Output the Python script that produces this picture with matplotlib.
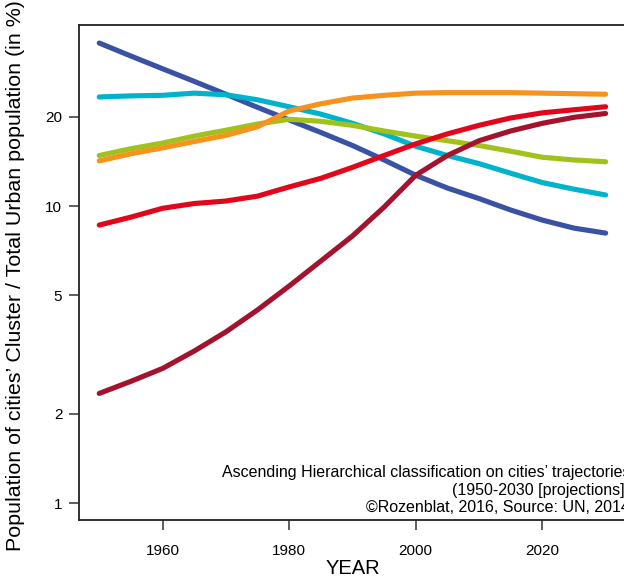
import matplotlib
matplotlib.use('Agg')
import matplotlib.pyplot as plt
from matplotlib.ticker import FixedLocator, FixedFormatter, NullLocator

plt.rcParams['font.family'] = ['Liberation Sans', 'DejaVu Sans']

years = [1950, 1955, 1960, 1965, 1970, 1975, 1980, 1985, 1990,
         1995, 2000, 2005, 2010, 2015, 2020, 2025, 2030]

# share of each cluster in total urban population (%)
blue = [35.4, 32.0, 29.0, 26.3, 23.8, 21.5, 19.5, 17.7, 16.0,
        14.3, 12.7, 11.5, 10.6, 9.7, 8.97, 8.43, 8.11]
cyan = [23.3, 23.5, 23.6, 24.0, 23.7, 22.8, 21.6, 20.4, 19.0,
        17.5, 15.9, 14.8, 13.9, 12.9, 12.0, 11.4, 10.9]
green = [14.8, 15.6, 16.3, 17.2, 18.0, 18.9, 19.6, 19.3, 18.7,
         17.9, 17.2, 16.6, 16.0, 15.3, 14.6, 14.3, 14.1]
orange = [14.2, 15.0, 15.7, 16.5, 17.3, 18.5, 20.9, 22.1, 23.1,
          23.6, 24.0, 24.1, 24.1, 24.1, 24.0, 23.9, 23.8]
red = [8.63, 9.18, 9.83, 10.2, 10.4, 10.8, 11.6, 12.4, 13.5,
       14.8, 16.2, 17.5, 18.7, 19.8, 20.6, 21.1, 21.6]
darkred = [2.34, 2.57, 2.84, 3.25, 3.77, 4.47, 5.38, 6.53, 7.93,
           9.92, 12.7, 14.8, 16.6, 17.9, 19.0, 19.9, 20.5]

series = [
    (blue, '#3a52a3'),
    (cyan, '#00b3cc'),
    (green, '#a1c21b'),
    (orange, '#f6921e'),
    (red, '#e2061b'),
    (darkred, '#a3132d'),
]

yticks = [1, 2, 5, 10, 20]
xticks = [1960, 1980, 2000, 2020]

fig = plt.figure(figsize=(6.24, 5.78), dpi=100)
ax = fig.add_axes([0.1266, 0.1003, 0.8764, 0.8564])

for vals, col in series:
    ax.plot(years, vals, color=col, lw=3.7, solid_capstyle='round',
            solid_joinstyle='round')

ax.set_yscale('log')
ax.set_xlim(1946.8, 2033.2)
ax.set_ylim(0.877, 40.7)
ax.yaxis.set_major_locator(FixedLocator(yticks))
ax.yaxis.set_major_formatter(FixedFormatter([str(t) for t in yticks]))
ax.yaxis.set_minor_locator(NullLocator())
ax.set_xticks(xticks)

for s in ax.spines.values():
    s.set_linewidth(1.3)
    s.set_color('#222222')
ax.tick_params(direction='out', length=7, width=1.1, color='#333333',
               labelsize=11, pad=5)
ax.tick_params(axis='x', pad=10)

ax.set_xlabel('YEAR', fontsize=14.5, va='center')
ax.xaxis.set_label_coords(0.5, -0.097)
# long label: runs past the top edge in the source image too
ax.set_ylabel("Population of cities\u2019 Cluster / Total Urban population (in %)",
              fontsize=15.4, va='center', rotation_mode='default')
ax.yaxis.set_label_coords(-0.117, 0.493)

# caption runs off the right edge, as in the source image
note = ["Ascending Hierarchical classification on cities\u2019 trajectories",
        "(1950-2030 [projections])",
        "\u00a9Rozenblat, 2016, Source: UN, 2014"]
for i, line in enumerate(note):
    fig.text(630 / 624, 1 - (472 + 18 * i) / 578, line, ha='right',
             va='center', fontsize=11.5)

fig.savefig('out.png', dpi=100)
